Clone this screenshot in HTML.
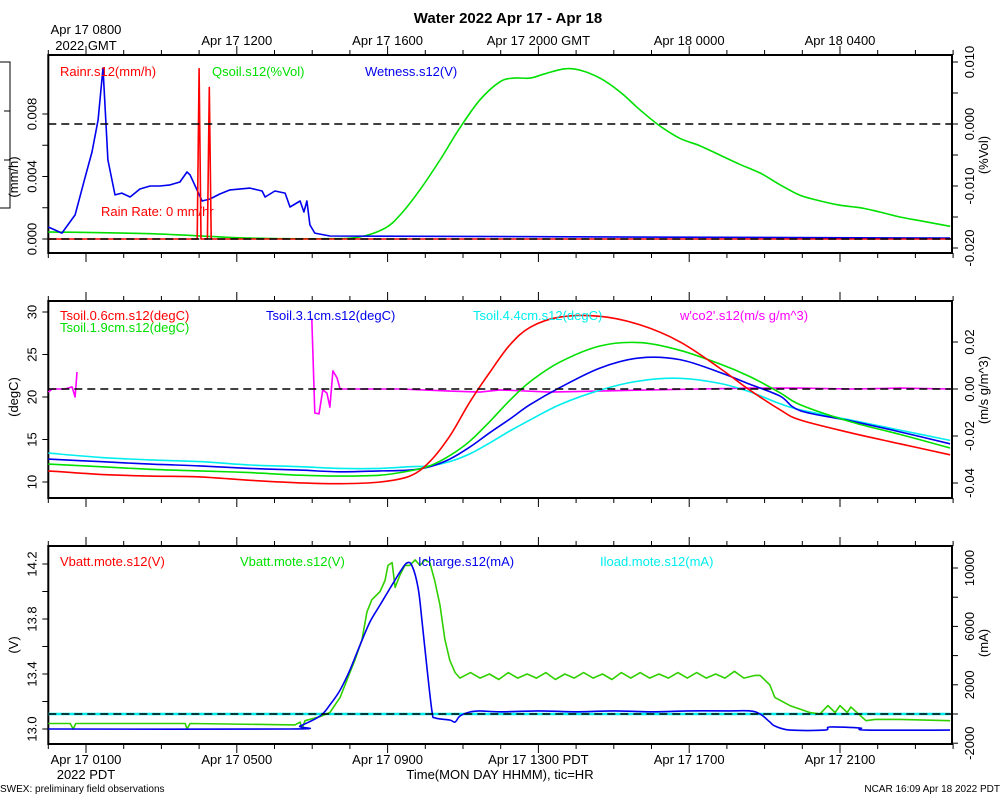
<!DOCTYPE html>
<html><head><meta charset="utf-8"><style>
body{margin:0;background:#fff}svg{display:block;font-family:"Liberation Sans",sans-serif}
</style></head><body>
<svg id="c" width="1000" height="800" xmlns="http://www.w3.org/2000/svg"></svg>
<script>
// ---- data (time in hours PDT from Apr 17 0000) ----
const wetTime=[0,0.36,0.71,0.97,1.16,1.32,1.45,1.58,1.77,1.95,2.17,2.43,2.70,2.96,3.23,3.49,3.68,3.76,4.08,4.29,4.55,4.82,5.35,5.67,5.75,6.01,6.28,6.41,6.68,6.78,6.86,6.94,7.07,7.47,23.92];
const wetVals=[.00077,.00038,.00154,.0039,.00557,.00762,.01094,.00506,.00282,.00294,.00269,.0032,.00339,.00339,.00346,.00365,.00429,.0041,.00243,.00256,.00288,.00314,.00326,.00307,.00269,.00307,.00294,.00205,.00243,.00173,.00243,.0009,.00038,.00019,.00006];
const rainTime=[0,3.95,4.0,4.05,4.22,4.27,4.32,23.92];
const rainVals=[0,0,0.0109,0,0,0.0097,0,0];
const qsoilTime=[0,2.70,5.35,7.47,8.27,8.93,9.33,9.86,10.39,10.92,11.45,11.98,12.35,12.78,13.17,13.70,14.10,14.63,15.16,15.69,16.22,16.75,17.28,17.81,18.34,18.88,19.41,19.94,20.47,21.0,21.53,22.06,22.59,23.12,23.92];
const qsoilVals=[-.0174,-.0177,-.0184,-.0185,-.0182,-.0168,-.0147,-.0106,-.0058,-.0006,.0039,.0068,.0074,.0074,.0081,.0089,.0087,.0074,.0052,.0023,-.0003,-.0023,-.0035,-.005,-.0065,-.0079,-.0098,-.0115,-.0124,-.0131,-.0135,-.0142,-.015,-.0156,-.0165];
const tsTime=[0,1.37,2.70,4.02,5.35,6.68,7.74,8.80,9.59,10.12,10.65,11.18,11.71,12.24,12.78,13.57,14.63,15.69,16.75,17.81,18.61,19.41,19.94,21.27,22.59,23.92];
const ts06=[11.3,10.9,10.7,10.6,10.2,9.9,9.8,10.0,10.7,12.4,15.4,19.4,22.9,26.1,28.2,29.4,29.5,28.5,26.5,23.4,20.8,18.5,17.3,15.8,14.5,13.2];
const ts19=[12.1,11.8,11.5,11.3,11.1,10.8,10.7,10.8,11.3,11.9,13.1,14.8,17.1,19.6,21.8,24.1,26.0,26.4,25.5,23.9,22.4,20.5,19.1,17.1,15.6,14.0];
const ts31=[12.7,12.4,12.1,11.9,11.6,11.4,11.2,11.3,11.4,11.8,12.7,14.1,15.8,17.4,19.1,21.1,23.4,24.6,24.4,22.9,21.5,20.1,18.4,17.2,15.9,14.5];
const ts44=[13.4,12.9,12.6,12.4,12.0,11.8,11.6,11.6,11.8,11.9,12.4,13.3,14.6,16.0,17.3,19.1,20.8,21.9,22.2,21.6,20.6,19.2,18.5,17.3,16.1,14.9];
const co2Time=[0,0.1,0.44,0.63,0.71,0.76,null,6.99,7.07,7.18,7.28,7.39,7.47,7.55,7.66,7.74,9.33,10.65,11.45,11.98,13.3,14.63,15.96,17.28,18.61,19.94,21.27,22.59,23.92];
const co2Vals=[-.0013,0,0,.0009,-.0034,.0072,null,.030,-.0102,-.0106,-.0004,-.0017,-.0077,.0077,.0047,0,0,-.0009,-.0013,-.0004,-.0013,-.0009,-.0004,0,.0004,.0004,0,.0004,0];
const vbTime=[0,0.58,0.66,0.73,3.63,3.68,3.76,6.54,6.68,6.73,6.81,7.21,7.47,7.74,8.0,8.13,8.32,8.45,8.58,8.80,8.93,9.01,9.12,9.20,9.33,9.46,9.59,9.73,9.86,9.99,10.12,10.25,10.39,10.52,10.65,10.79,10.92,11.2,11.45,11.7,11.95,12.2,12.45,12.7,12.95,13.2,13.45,13.7,13.95,14.2,14.45,14.7,14.95,15.2,15.45,15.7,15.95,16.2,16.45,16.7,16.95,17.2,17.45,17.7,17.95,18.2,18.45,18.75,18.88,19.14,19.27,19.67,20.2,20.47,20.68,20.87,21.0,21.19,21.29,21.53,21.69,21.93,22.59,23.92];
const vbVals=[13.04,13.04,13.0,13.04,13.04,13.0,13.04,13.03,13.05,13.0,13.06,13.09,13.12,13.23,13.41,13.5,13.65,13.85,13.94,14.0,14.08,14.19,14.21,14.03,14.12,14.19,14.19,14.23,14.19,14.23,14.21,14.08,13.9,13.65,13.5,13.41,13.37,13.41,13.37,13.40,13.36,13.41,13.37,13.40,13.37,13.41,13.36,13.40,13.37,13.41,13.37,13.40,13.36,13.41,13.37,13.41,13.37,13.40,13.37,13.41,13.37,13.41,13.37,13.40,13.37,13.42,13.37,13.39,13.39,13.32,13.23,13.17,13.12,13.11,13.17,13.12,13.17,13.12,13.16,13.1,13.06,13.07,13.07,13.06];
const icTime=[0,6.41,6.68,7.21,7.47,7.74,8.0,8.27,8.53,8.80,9.07,9.33,9.51,9.65,9.81,9.91,10.05,10.18,10.26,10.65,10.79,10.92,11.18,11.45,12.0,13.0,14.0,15.0,16.0,17.0,18.0,18.61,18.88,19.14,19.27,19.67,20.6,20.73,21.53,21.69,23.92];
const icVals=[-1030,-1030,-820,-140,620,1640,3010,4730,6300,7470,8630,9730,10340,10140,8630,6440,3010,140,-270,-410,-550,-140,140,210,150,210,150,210,150,210,210,210,0,-550,-820,-1100,-1100,-890,-960,-1100,-1100];
const ilTime=[0,23.92];
const ilVals=[0,0];
const botLabels=["Apr 17 0100","Apr 17 0500","Apr 17 0900","Apr 17 1300 PDT","Apr 17 1700","Apr 17 2100"];
const topLabels=["Apr 17 0800","Apr 17 1200","Apr 17 1600","Apr 17 2000 GMT","Apr 18 0000","Apr 18 0400"];

const svg=document.getElementById('c');const NS="http://www.w3.org/2000/svg";
function mk(t,a,p){const e=document.createElementNS(NS,t);for(const k in a)e.setAttribute(k,a[k]);(p||svg).appendChild(e);return e;}
function txt(s,x,y,o){const e=mk('text',Object.assign({x:x,y:y,'font-size':13},o||{}));e.textContent=s;return e;}
const X0=48.3,XS=37.7,XR=952;
const X=h=>X0+h*XS;
const lin=(v0,y0,v1,y1)=>v=>y0+(v-v0)*(y1-y0)/(v1-v0);
function series(t,v,fy,color,name,w,smooth){let d='';
 let segs=[],cur=[];
 for(let i=0;i<t.length;i++){if(t[i]===null){if(cur.length)segs.push(cur);cur=[];continue;}cur.push([X(t[i]),fy(v[i])]);}
 if(cur.length)segs.push(cur);
 for(const s of segs){d+='M'+s[0][0].toFixed(1)+','+s[0][1].toFixed(1);
  for(let i=1;i<s.length;i++){
   if(smooth){const p0=s[Math.max(i-2,0)],p1=s[i-1],p2=s[i],p3=s[Math.min(i+1,s.length-1)];
    const c1=[p1[0]+(p2[0]-p0[0])/6,p1[1]+(p2[1]-p0[1])/6],c2=[p2[0]-(p3[0]-p1[0])/6,p2[1]-(p3[1]-p1[1])/6];
    d+='C'+c1[0].toFixed(1)+','+c1[1].toFixed(1)+' '+c2[0].toFixed(1)+','+c2[1].toFixed(1)+' '+p2[0].toFixed(1)+','+p2[1].toFixed(1);}
   else d+='L'+s[i][0].toFixed(1)+','+s[i][1].toFixed(1);}}
 const p=mk('path',{d:d,fill:'none',stroke:color,'stroke-width':w||1.6,'stroke-linejoin':'round'});
 
 }
function frame(y0,y1,name){const r=mk('rect',{x:X0,y:y0,width:XR-X0,height:y1-y0,fill:'none',stroke:'#000','stroke-width':2});
 
 
 for(let h=0;h<=24;h++){const x=X(h);const L=(h%4===1)?9:5;
  mk('line',{x1:x,y1:y0,x2:x,y2:y0-L,stroke:'#000','stroke-width':1});
  mk('line',{x1:x,y1:y1,x2:x,y2:y1+L,stroke:'#000','stroke-width':1});}}
function dash(y,name){const l=mk('line',{x1:X0,y1:y,x2:XR,y2:y,stroke:'#000','stroke-width':1.6,'stroke-dasharray':'8,5'});
 
 }
function yaxis(fy,ticks,labels,side,fmt,title,tx,ty){
 for(const v of ticks){const y=fy(v);const x=side<0?X0:XR;mk('line',{x1:x,y1:y,x2:x+side*6,y2:y,stroke:'#000','stroke-width':1});}
 for(const v of labels){const y=fy(v);const x=side<0?X0-12:XR+22;
  const e=txt(fmt(v),x,y,{'text-anchor':'middle',transform:`rotate(-90 ${x} ${y})`});
  
  }
 const t=txt(title,tx,ty,{'text-anchor':'middle',transform:`rotate(-90 ${tx} ${ty})`});
 
 }
function leg(s,x,y,c){const e=txt(s,x,y,{fill:c});}

const tt=txt('Water 2022 Apr 17 - Apr 18',508,23,{'font-size':15,'font-weight':'bold','text-anchor':'middle'});


// ---- top panel ----
const tL=lin(0,239,0.008,114),tR=lin(0,124,0.010,62);
frame(55,253,'top-panel-frame');
series(qsoilTime,qsoilVals,tR,'#00e000','qsoil-line',1.6,true);
series(wetTime,wetVals,tL,'#0000ee','wetness-line');
series(rainTime,rainVals,tL,'#ff0000','rain-rate-line');
dash(tR(0),'top-zero-line');dash(tL(0),'top-left-zero-line');
yaxis(tL,[0,.002,.004,.006,.008],[0,.004,.008],-1,v=>v.toFixed(3),'(mm/h)',18,177);
yaxis(tR,[.010,.005,0,-.005,-.010,-.015,-.020],[.010,0,-.010,-.020],1,v=>v.toFixed(3),'(%Vol)',988,155);
leg('Rainr.s12(mm/h)',60,76,'#ff0000');leg('Qsoil.s12(%Vol)',212,76,'#00e000');leg('Wetness.s12(V)',365,76,'#0000ee');
leg('Rain Rate: 0 mm/hr',101,216,'#ff0000');
mk('path',{d:'M0,62H10V208H0M10,111H4M10,160H4',fill:'none',stroke:'#000','stroke-width':1});
topLabels.forEach((s,i)=>{const e=txt(s,X(1+4*i),i===0?34:45,{'text-anchor':'middle'});});
txt('2022 GMT',86,50,{'text-anchor':'middle'});

// ---- middle panel ----
const mL=lin(30,312,10,482),mR=lin(0,389,0.02,342);
frame(301,498,'middle-panel-frame');
series(co2Time,co2Vals,mR,'#ff00ff','wco2-line');
series(tsTime,ts44,mL,'#00eeee','tsoil-4.4cm-line',1.6,true);
series(tsTime,ts31,mL,'#0000ee','tsoil-3.1cm-line',1.6,true);
series(tsTime,ts19,mL,'#00e000','tsoil-1.9cm-line',1.6,true);
series(tsTime,ts06,mL,'#ff0000','tsoil-0.6cm-line',1.6,true);
dash(mR(0),'middle-zero-line');
yaxis(mL,[10,15,20,25,30],[10,15,20,25,30],-1,v=>String(v),'(degC)',18,397);
yaxis(mR,[.02,0,-.02,-.04],[.02,0,-.02,-.04],1,v=>v.toFixed(2),'(m/s g/m^3)',988,390);
leg('Tsoil.0.6cm.s12(degC)',60,320,'#ff0000');leg('Tsoil.1.9cm.s12(degC)',60,332,'#00e000');
leg('Tsoil.3.1cm.s12(degC)',266,320,'#0000ee');leg('Tsoil.4.4cm.s12(degC)',473,320,'#00eeee');
leg("w'co2'.s12(m/s g/m^3)",680,320,'#ff00ff');

// ---- bottom panel ----
const bL=lin(13,729,14.2,564),bR=lin(0,714,10000,568);
frame(546,744,'bottom-panel-frame');
series(ilTime,ilVals,bR,'#00eeee','iload-line',2.5);
series(vbTime,vbVals,bL,'#30d000','vbatt-line');
series(icTime,icVals,bR,'#0000ee','icharge-line',1.6,true);
dash(bR(0),'bottom-zero-line');
yaxis(bL,[13.0,13.2,13.4,13.6,13.8,14.0,14.2],[13.0,13.4,13.8,14.2],-1,v=>v.toFixed(1),'(V)',18,645);
yaxis(bR,[-2000,0,2000,4000,6000,8000,10000],[-2000,2000,6000,10000],1,v=>String(v),'(mA)',988,643);
leg('Vbatt.mote.s12(V)',60,566,'#ff0000');leg('Vbatt.mote.s12(V)',240,566,'#00e000');
leg('Icharge.s12(mA)',418,566,'#0000ee');leg('Iload.mote.s12(mA)',600,566,'#00eeee');
botLabels.forEach((s,i)=>{const e=txt(s,X(1+4*i),764,{'text-anchor':'middle'});});
txt('2022 PDT',86,779,{'text-anchor':'middle'});
const xt=txt('Time(MON DAY HHMM), tic=HR',500,779,{'text-anchor':'middle'});

txt('SWEX: preliminary field observations',0,792,{'font-size':10});
txt('NCAR 16:09 Apr 18 2022 PDT',1000,792,{'font-size':10,'text-anchor':'end'});
</script>
</body></html>
